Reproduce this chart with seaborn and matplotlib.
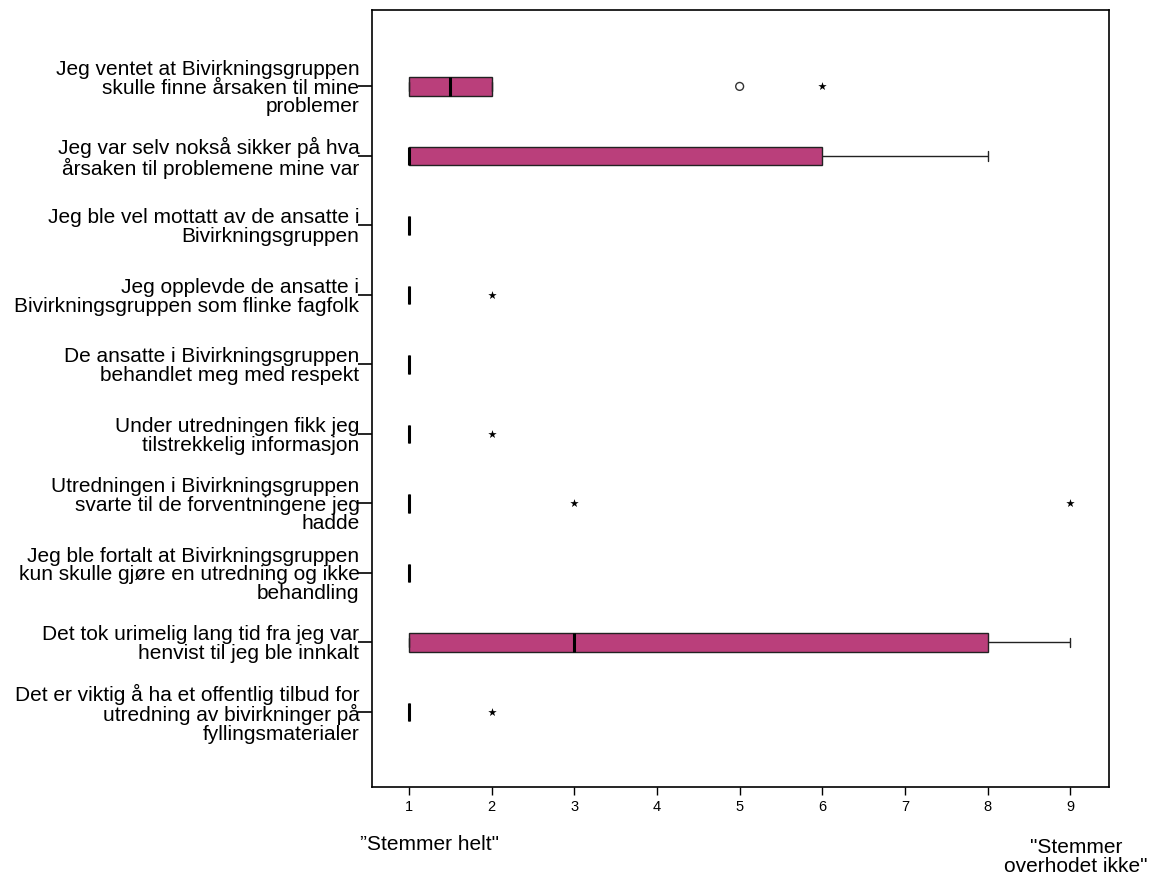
import numpy as np
import pandas as pd
import matplotlib
matplotlib.use("Agg")
import matplotlib.pyplot as plt
import seaborn as sns

questions = [
    "Jeg ventet at Bivirkningsgruppen\nskulle finne årsaken til mine\nproblemer",
    "Jeg var selv nokså sikker på hva\nårsaken til problemene mine var",
    "Jeg ble vel mottatt av de ansatte i\nBivirkningsgruppen",
    "Jeg opplevde de ansatte i\nBivirkningsgruppen som flinke fagfolk",
    "De ansatte i Bivirkningsgruppen\nbehandlet meg med respekt",
    "Under utredningen fikk jeg\ntilstrekkelig informasjon",
    "Utredningen i Bivirkningsgruppen\nsvarte til de forventningene jeg\nhadde",
    "Jeg ble fortalt at Bivirkningsgruppen\nkun skulle gjøre en utredning og ikke\nbehandling",
    "Det tok urimelig lang tid fra jeg var\nhenvist til jeg ble innkalt",
    "Det er viktig å ha et offentlig tilbud for\nutredning av bivirkninger på\nfyllingsmaterialer",
]

# responses per question (1 = "Stemmer helt", 9 = "Stemmer overhodet ikke")
q1 = [1]*10 + [2]*8 + [5, 6]
q2 = [1]*11 + [2, 3, 5] + [6]*5 + [8]
q3 = [1]*20
q4 = [1]*19 + [2]
q5 = [1]*20
q6 = [1]*19 + [2]
q7 = [1]*18 + [3, 9]
q8 = [1]*20
q9 = [1]*6 + [2]*3 + [3]*2 + [4, 5, 7] + [8]*5 + [9]
q10 = [1]*19 + [2]
responses = [q1, q2, q3, q4, q5, q6, q7, q8, q9, q10]

xticks = [1, 2, 3, 4, 5, 6, 7, 8, 9]
left_label = "\u201dStemmer helt\""
right_label = "\"Stemmer\noverhodet ikke\""

rows = []
for q, vals in zip(questions, responses):
    for v in vals:
        rows.append({"question": q, "value": v})
df = pd.DataFrame(rows)

# classify outliers (SPSS style: circle > 1.5 IQR, star > 3 IQR)
out_rows = []
for i, (q, vals) in enumerate(zip(questions, responses)):
    arr = np.asarray(vals, dtype=float)
    q1_, q3_ = np.percentile(arr, [25, 75])
    iqr = q3_ - q1_
    for v in sorted(set(arr)):
        if v > q3_ + 3 * iqr or v < q1_ - 3 * iqr:
            out_rows.append({"pos": i, "value": v, "kind": "extreme"})
        elif v > q3_ + 1.5 * iqr or v < q1_ - 1.5 * iqr:
            out_rows.append({"pos": i, "value": v, "kind": "outlier"})
outs = pd.DataFrame(out_rows)

sns.set_style("white")
plt.rcParams["font.family"] = ["Liberation Sans", "DejaVu Sans"]
plt.rcParams["text.color"] = "black"
plt.rcParams["xtick.color"] = "black"
plt.rcParams["ytick.color"] = "black"
plt.rcParams["axes.labelcolor"] = "black"

fig = plt.figure(figsize=(11.57, 8.82), dpi=100)
ax = fig.add_axes([0.3215, 0.1077, 0.637, 0.881])

box_color = "#BA3F7B"
sns.boxplot(data=df, x="value", y="question", order=questions, orient="h",
            color=box_color, saturation=1, width=0.27, whis=1.5,
            showfliers=False, linecolor="#222222", linewidth=1.0,
            medianprops=dict(color="black", linewidth=2.2),
            ax=ax)

ext = outs[outs["kind"] == "extreme"]
olr = outs[outs["kind"] == "outlier"]
ax.scatter(ext["value"], ext["pos"], marker="*", s=40, color="black",
           linewidths=0, zorder=5)
ax.scatter(olr["value"], olr["pos"], marker="o", s=32, facecolors="none",
           edgecolors="#333333", linewidths=1.0, zorder=5)

ax.set_xlim(0.55, 9.47)
ax.set_ylim(len(questions) - 1 + 1.08, -1.1)
ax.set_xticks(xticks)
ax.set_xticklabels([str(t) for t in xticks], fontsize=10.5)
ax.set_xlabel("")
ax.set_ylabel("")

for s in ax.spines.values():
    s.set_visible(True)
    s.set_color("black")
    s.set_linewidth(1.2)

ax.tick_params(axis="y", which="major", left=True, length=10, width=1.2,
               color="black", pad=-1, labelsize=15)
ax.tick_params(axis="x", which="major", bottom=True, length=6, width=1.0,
               color="black", pad=3)
for lab in ax.get_yticklabels():
    lab.set_multialignment("right")
    lab.set_linespacing(0.98)

fig.text(429 / 1157, 1 - 845 / 882, left_label, ha="center", va="center",
         fontsize=15)
fig.text(1076 / 1157, 1 - 857 / 882, right_label, ha="center", va="center",
         fontsize=15, linespacing=0.98)

fig.savefig("out.png", dpi=100, facecolor="white")
